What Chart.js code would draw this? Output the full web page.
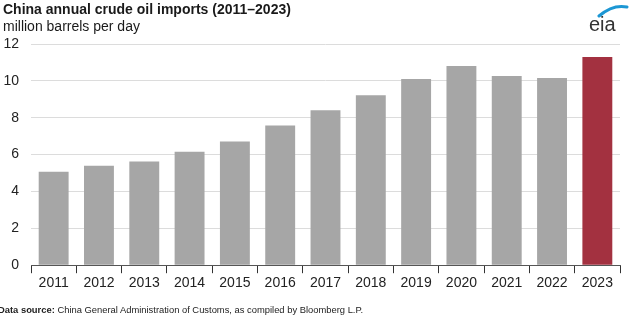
<!DOCTYPE html>
<html>
<head>
<meta charset="utf-8">
<script src="https://cdn.jsdelivr.net/npm/chart.js@4"></script>
<style>
  html, body { margin: 0; padding: 0; background: #fff; }
  #wrap { position: relative; width: 640px; height: 322px; overflow: hidden; font-family: 'Liberation Sans', Arial, sans-serif; }
  #chart { position: absolute; left: 0; top: 0; }
  .title { position: absolute; left: 3px; top: 1px; font-size: 14px; font-weight: bold; color: #1a1a1a; }
  .subtitle { position: absolute; left: 3px; top: 18px; font-size: 14px; color: #1a1a1a; }
  .source { position: absolute; left: -2px; top: 304px; font-size: 9.4px; color: #222; white-space: nowrap; }
  .logo { position: absolute; left: 583px; top: 3px; width: 48px; height: 32px; }
</style>
</head>
<body>
<div id="wrap">
  <canvas id="chart" width="640" height="322"></canvas>
  <div class="title">China annual crude oil imports (2011–2023)</div>
  <div class="subtitle">million barrels per day</div>
  <div class="source"><b>Data source:</b> China General Administration of Customs, as compiled by Bloomberg L.P.</div>
  <svg class="logo" viewBox="0 0 48 32">
    <path d="M16 13 Q30 1 44 4" stroke="#1c97d4" stroke-width="3" fill="none" stroke-linecap="round"/>
    <text x="6" y="28" font-family="Liberation Sans, Arial, sans-serif" font-size="20" fill="#333">eia</text>
  </svg>
</div>
<script>
// values
const years = ['2011', '2012', '2013', '2014', '2015', '2016', '2017', '2018', '2019', '2020', '2021', '2022', '2023'];
const imports = [5.07, 5.4, 5.62, 6.16, 6.71, 7.58, 8.4, 9.22, 10.1, 10.8, 10.26, 10.15, 11.3];
const yTicks = [0, 2, 4, 6, 8, 10, 12];

const barColors = years.map(function(y) { return y === '2023' ? '#a33140' : '#a6a6a6'; });

new Chart(document.getElementById('chart'), {
    type: 'bar',
    data: {
        labels: years,
        datasets: [{
            label: 'Crude oil imports',
            data: imports,
            backgroundColor: barColors,
            borderWidth: 0,
            barPercentage: 0.66,
            categoryPercentage: 1.0
        }]
    },
    options: {
        responsive: false,
        animation: false,
        events: [],
        layout: {
            padding: { top: 44, left: 0, right: 20, bottom: 28 }
        },
        plugins: {
            legend: { display: false },
            tooltip: { enabled: false }
        },
        scales: {
            x: {
                offset: true,
                grid: {
                    offset: true,
                    drawOnChartArea: false,
                    drawTicks: true,
                    tickLength: 8,
                    color: '#333333'
                },
                border: { display: true, color: '#555555', width: 1 },
                ticks: {
                    color: '#222222',
                    padding: 2,
                    maxRotation: 0,
                    font: { family: "'Liberation Sans', Arial, sans-serif", size: 14 }
                }
            },
            y: {
                min: 0,
                max: 12,
                afterBuildTicks: function(axis) {
                    axis.ticks = yTicks.map(function(v) { return { value: v }; });
                },
                afterFit: function(axis) {
                    axis.width = 31;
                },
                grid: {
                    color: '#dcdcdc',
                    drawTicks: false
                },
                border: { display: false },
                ticks: {
                    color: '#222222',
                    padding: 12,
                    font: { family: "'Liberation Sans', Arial, sans-serif", size: 14 }
                }
            }
        }
    }
});
</script>
</body>
</html>
